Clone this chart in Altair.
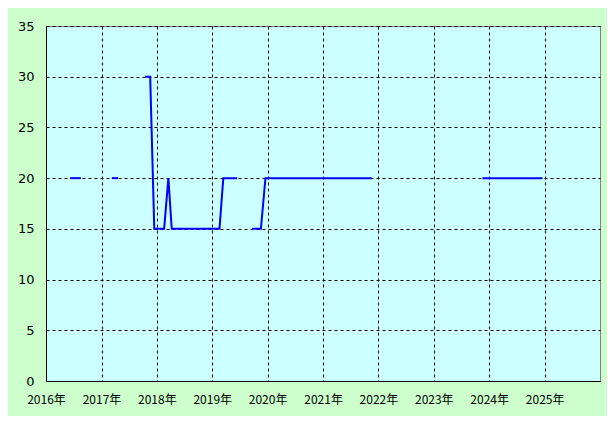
import altair as alt
import pandas as pd

dates = [
    "2016-06-08", "2016-08-18",
    "2017-03-10", "2017-04-21",
    "2017-10-15", "2017-11-18", "2017-12-15", "2018-02-18", "2018-03-18",
    "2018-04-09", "2019-02-18", "2019-03-15", "2019-06-15",
    "2019-09-21", "2019-11-18", "2019-12-18", "2021-11-18",
    "2023-11-18", "2024-12-18",
]
values = [
    20, 20,
    20, 20,
    30, 30, 15, 15, 20,
    15, 15, 20, 20,
    15, 15, 20, 20,
    20, 20,
]
segments = [
    1, 1,
    2, 2,
    3, 3, 3, 3, 3,
    3, 3, 3, 3,
    4, 4, 4, 4,
    5, 5,
]
year_ticks = list(range(2016, 2026))
y_ticks = [0, 5, 10, 15, 20, 25, 30, 35]

df = pd.DataFrame({"date": dates, "value": values, "seg": segments})

line = alt.Chart(df).mark_line(color="#0000FF", strokeWidth=2).encode(
    x=alt.X(
        "date:T",
        scale=alt.Scale(
            type="utc",
            domain=[alt.DateTime(year=2016, month=1, date=1, utc=True),
                    alt.DateTime(year=2026, month=1, date=1, utc=True)],
        ),
        axis=alt.Axis(
            values=[alt.DateTime(year=y, month=1, date=1, utc=True) for y in year_ticks],
            format="%Y年",
            title=None,
            ticks=False,
            labelPadding=13,
            labelFontSize=12,
            labelFont="Noto Sans CJK JP",
            labelColor="#000000",
            labelAlign="center",
            labelOverlap=False,
            labelBound=False,
            labelFlush=False,
            domainColor="#000000",
            grid=True,
            gridColor="#000000",
            gridDash=[3, 3],
            gridWidth=1,
            gridOpacity=1,
        ),
    ),
    y=alt.Y(
        "value:Q",
        scale=alt.Scale(domain=[0, 35], nice=False),
        axis=alt.Axis(
            values=y_ticks,
            title=None,
            ticks=False,
            labelPadding=12,
            labelFontSize=13,
            labelFont="DejaVu Sans",
            labelColor="#000000",
            labelOverlap=False,
            domainColor="#000000",
            grid=True,
            gridColor="#000000",
            gridDash=[3, 3],
            gridWidth=1,
            gridOpacity=1,
        ),
    ),
    detail="seg:N",
)

chart = line.properties(
    width=554,
    height=355,
    background="#CCFFCC",
    autosize=alt.AutoSizeParams(type="none"),
    padding={"left": 38, "top": 18, "right": 7, "bottom": 35},
).configure_view(
    fill="#CCFFFF",
    stroke="#808080",
    strokeWidth=1,
)

chart.save("out.html", embed_options={"renderer": "svg", "actions": False})
